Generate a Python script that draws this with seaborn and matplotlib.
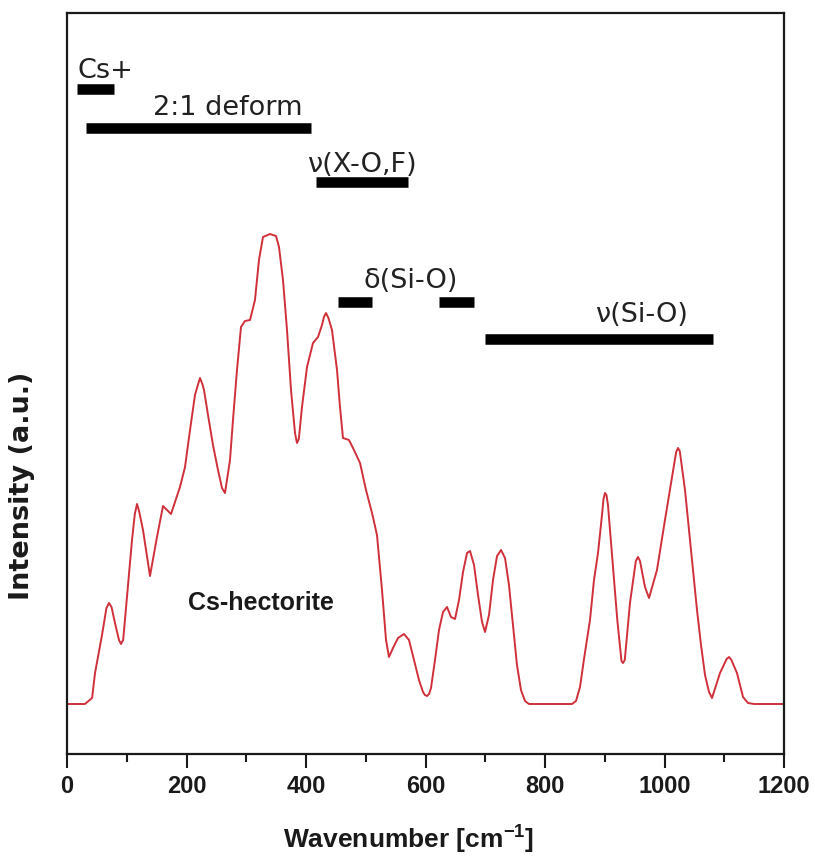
import matplotlib
matplotlib.use("Agg")
import matplotlib.pyplot as plt
from matplotlib.ticker import MultipleLocator
import numpy as np
import pandas as pd
import seaborn as sns

# ---- data ----
wavenumber = [0, 30, 42, 46.9, 58.6, 66, 70.3, 74.5, 80.3, 87, 90.4, 94, 100.4, 108.8,
              113.5, 117.2, 121, 127.2,
              138.9, 150.6, 160.7, 174.1, 189.1, 197.5, 205.9, 214.2, 218.5, 222.6,
              226.5, 229.3,
              236.0, 244.3, 252.7, 259.4, 264.4, 272.8, 277.8, 284.5, 291.2, 297.9,
              306.3, 314.6, 321.3, 328.0, 339.7, 349.8, 354.8, 361.5, 368.2, 374.9,
              381.6, 384.9, 388, 393.3, 401.7, 411.7, 420.1, 426.8, 430, 433.5, 437.5,
              443.5, 451.9,
              456.9, 461.9, 471.9, 480.3, 490.4, 500.4, 510.5, 518.8, 527.2, 533.9,
              538.9, 545.6, 554.0, 564.0, 572.4, 580.8, 589.1, 595.8, 599, 602.5, 606,
              609.2,
              615.9, 622.6, 629.3, 636.0, 642.7, 649.4, 656.1, 662.8, 669.5, 674.5,
              681.2, 687.9, 694.6, 699.6, 706.3, 713.0, 719.7, 726.4, 733.1, 739.7,
              746.4, 753.1, 759.8, 766.5, 773.2, 845.2, 851.9, 858.6, 865.3, 875.3,
              882.0, 888.7, 895.4, 897.9, 900.4, 902.9, 905.4, 914.3, 921.0, 925.5,
              928, 930.5, 933.5, 942.2,
              952, 955.6, 959, 967.3, 974.1, 987.4, 1000.8, 1012.6, 1019.5, 1022.6,
              1025.5, 1027.6, 1034.3,
              1041.0, 1047.7, 1054.4, 1061.1, 1067.8, 1074.5, 1079.5, 1092.9, 1104,
              1108.0, 1112,
              1121.3, 1131.4, 1139.7, 1150, 1200]
intensity = [0, 0, 6, 31, 69, 96, 101, 97, 81, 64, 60, 64, 107, 164,
             190, 200, 192, 174,
             128, 167, 198, 190, 217, 237, 274, 309, 318, 326,
             320, 314,
             289, 259, 234, 216, 211, 244, 284, 334, 377, 383,
             384, 404, 444, 467, 470, 468, 457, 424, 374, 314,
             271, 261, 265, 297, 337, 361, 367, 379, 387, 391, 386,
             374, 334,
             297, 266, 264, 254, 241, 214, 191, 169, 114, 64,
             47, 56, 66, 70, 64, 44, 24, 12, 9, 8, 10,
             16,
             44, 74, 92, 97, 87, 85, 104, 132, 151, 153,
             139, 109, 82, 72, 89, 124, 148, 154, 146, 119,
             79, 39, 14, 3, 0, 0, 3, 17, 45, 84,
             124, 151, 189, 205, 211, 209, 199, 134, 84, 57,
             43, 41, 44, 101,
             143, 147, 143, 117, 106, 134, 184, 227, 252, 256,
             253, 244, 214,
             174, 134, 94, 59, 29, 12, 6, 31, 45,
             47, 44,
             31, 7, 1, 0, 0]

band_labels = ["Cs+", "2:1 deform", "\u03bd(X-O,F)", "\u03b4(Si-O)", "", "\u03bd(Si-O)"]
band_start = [17, 32, 416, 453, 622, 699]
band_end = [79, 408, 570, 510, 681, 1082]
band_level = [615, 576, 522, 402, 402, 365]

x_ticks = [0, 200, 400, 600, 800, 1000, 1200]
sample_label = "Cs-hectorite"

# ---- figure ----
sns.set_theme(style="white")
plt.rcParams["font.family"] = ["Liberation Sans", "DejaVu Sans"]
plt.rcParams["mathtext.fontset"] = "custom"
plt.rcParams["mathtext.rm"] = "Liberation Sans:bold"
plt.rcParams["mathtext.default"] = "rm"

fig = plt.figure(figsize=(8.15, 8.66), dpi=100)
W, H = 815, 866
left, right, top, bottom = 67, 784, 13, 754
ax = fig.add_axes([left / W, (H - bottom) / H, (right - left) / W, (bottom - top) / H])

df = pd.DataFrame({"wavenumber": wavenumber, "intensity": intensity})
line_ax = sns.lineplot(data=df, x="wavenumber", y="intensity", ax=ax, color="#d0303a",
                       lw=1.4, sort=False)
for ln in ax.lines:
    ln.set_solid_joinstyle("round")

# band bars
lc = ax.hlines(band_level, band_start, band_end, colors="black", lw=7.6)
lc.set_capstyle("butt")

ann_font = dict(family="DejaVu Sans", fontsize=19.5, color="#222222")
text_pos = [(18.4, 626), (144, 589), (401.7, 532), (495.4, 416), None, (883.7, 382)]
for lab, pos in zip(band_labels, text_pos):
    if pos is None or not lab:
        continue
    ax.text(pos[0], pos[1], lab, ha="left", va="baseline", **ann_font)

ax.text(324.7, 101, sample_label, ha="center", va="center", fontsize=18,
        fontweight="bold", color="#1a1a1a")

ax.set_xlim(0, 1200)
ax.set_ylim(-50, 691)
ax.set_xticks(x_ticks)
ax.xaxis.set_minor_locator(MultipleLocator(100))
ax.set_yticks([])
ax.tick_params(axis="x", which="major", direction="out", length=10, width=1.5,
               labelsize=17, pad=5, bottom=True, top=False, colors="#1a1a1a")
ax.tick_params(axis="x", which="minor", direction="out", length=6, width=1.5,
               bottom=True, top=False, colors="#1a1a1a")
for lab in ax.get_xticklabels():
    lab.set_fontweight("bold")
for s in ax.spines.values():
    s.set_visible(True)
    s.set_linewidth(1.6)
    s.set_color("#1a1a1a")

ax.set_xlabel("")
ax.set_ylabel("")
fig.text(409 / W, 1 - 840 / H, "Wavenumber [cm$^{-1}$]", ha="center", va="center",
         fontsize=19, fontweight="bold", color="#1a1a1a")
fig.text(22 / W, 1 - 486 / H, "Intensity (a.u.)", ha="center", va="center",
         rotation=90, fontsize=19.5, fontweight="bold", family="DejaVu Sans",
         color="#1a1a1a")

fig.savefig("out.png", dpi=100)
